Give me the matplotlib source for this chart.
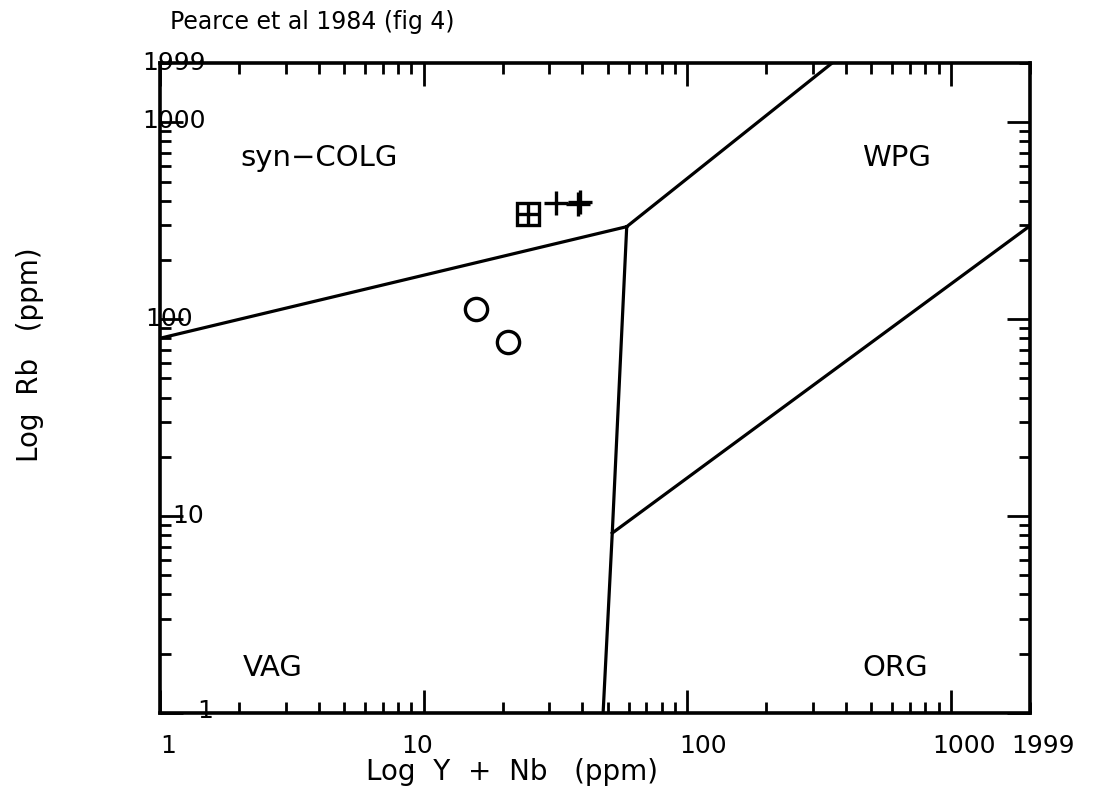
import matplotlib
matplotlib.use("Agg")
import matplotlib.pyplot as plt
from matplotlib.ticker import LogLocator, NullFormatter
import matplotlib.transforms as mtransforms

# boundary lines (Y+Nb, Rb)
syncolg_x = [1, 59]
syncolg_y = [80, 295]
wpg_x = [59, 355]
wpg_y = [295, 2000]
vag_x = [59, 52, 48]
vag_y = [295, 8.2, 1]
org_x = [52, 2000]
org_y = [8.2, 298]

# samples
circle_x = [15.8, 20.9]
circle_y = [112, 77]
square_x = [24.9]
square_y = [342]
plus_x = [24.9, 31.8, 38.6, 39.4]
plus_y = [342, 388, 384, 392]

# labels
xtick_vals = [1, 10, 100, 1000, 2000]
xtick_text = ["1", "10", "100", "1000", "1999"]
ytick_vals = [1, 10, 100, 1000, 2000]
ytick_text = ["1", "10", "100", "1000", "1999"]
fields = ["syn\u2212COLG", "WPG", "VAG", "ORG"]

fig = plt.figure(figsize=(10.98, 7.87), dpi=100)
ax = fig.add_axes([160/1098, 1-713/787, 870/1098, 650/787])
ax.set_xscale("log")
ax.set_yscale("log")
ax.set_xlim(1, 2000)
ax.set_ylim(1, 2000)

lw = 2.3
for xs, ys in [(syncolg_x, syncolg_y), (wpg_x, wpg_y), (vag_x, vag_y), (org_x, org_y)]:
    ax.plot(xs, ys, color="black", lw=lw, solid_joinstyle="miter")

ax.plot(circle_x, circle_y, "o", ms=16, mfc="none", mec="black", mew=2.4)
ax.plot(square_x, square_y, "s", ms=16, mfc="none", mec="black", mew=2.4)
ax.plot(plus_x, plus_y, "+", ms=17, mec="black", mew=2.4)

for s in ax.spines.values():
    s.set_linewidth(2.6)

ax.xaxis.set_major_locator(LogLocator(base=10))
ax.yaxis.set_major_locator(LogLocator(base=10))
ax.xaxis.set_minor_locator(LogLocator(base=10, subs=range(2, 10)))
ax.yaxis.set_minor_locator(LogLocator(base=10, subs=range(2, 10)))
ax.xaxis.set_major_formatter(NullFormatter())
ax.yaxis.set_major_formatter(NullFormatter())
ax.xaxis.set_minor_formatter(NullFormatter())
ax.yaxis.set_minor_formatter(NullFormatter())
ax.tick_params(which="both", direction="in", top=True, right=True, width=2.0)
ax.tick_params(which="major", length=16.5)
ax.tick_params(which="minor", length=8)

tfs = 18
# x tick labels (slightly scattered, like the original)
xoff = [8, -6, 16, 13, 13]
for v, t, o in zip(xtick_vals, xtick_text, xoff):
    tr = mtransforms.offset_copy(ax.get_xaxis_transform(), fig=fig, x=o, y=-33, units="dots")
    ax.text(v, 0, t, transform=tr, ha="center", va="center", fontsize=tfs, clip_on=False)

# y tick labels
ypos = [197, 172, 145, 142, 142]
yoff = [2, 0, 0, 1, 0]
for v, t, px, o in zip(ytick_vals, ytick_text, ypos, yoff):
    tr = mtransforms.offset_copy(ax.get_yaxis_transform(), fig=fig, x=px - 160, y=o, units="dots")
    ax.text(0, v, t, transform=tr, ha="left", va="center", fontsize=tfs, clip_on=False)

# field names
ffs = 21
ax.text(240/1098, 1-158/787, fields[0], transform=fig.transFigure, fontsize=ffs, va="center")
ax.text(862/1098, 1-158/787, fields[1], transform=fig.transFigure, fontsize=ffs, va="center")
ax.text(243/1098, 1-668/787, fields[2], transform=fig.transFigure, fontsize=ffs, va="center")
ax.text(862/1098, 1-668/787, fields[3], transform=fig.transFigure, fontsize=ffs, va="center")

fig.text(170/1098, 1-22/787, "Pearce et al 1984 (fig 4)", fontsize=17, va="center", ha="left")
fig.text(512/1098, 1-772/787, "Log  Y  +  Nb   (ppm)", fontsize=20, va="center", ha="center")
fig.text(30/1098, 1-355/787, "Log  Rb   (ppm)", fontsize=20, va="center", ha="center", rotation=90)

fig.savefig("out.png", dpi=100)
